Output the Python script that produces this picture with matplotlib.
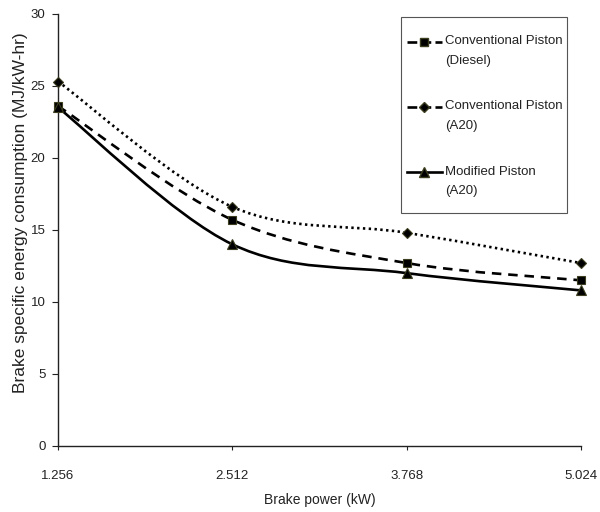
import matplotlib
matplotlib.use("Agg")
import matplotlib.pyplot as plt
import numpy as np
from matplotlib.path import Path
from matplotlib.patches import PathPatch, Rectangle
from matplotlib.lines import Line2D

plt.rcParams['font.family'] = ['Liberation Sans', 'DejaVu Sans']

# Data.
power = ["1.256", "2.512", "3.768", "5.024"]
diesel_conv = [23.6, 15.7, 12.7, 11.5]
a20_conv = [25.3, 16.6, 14.8, 12.7]
a20_mod = [23.5, 14.0, 12.0, 10.8]
series_labels = ["Conventional Piston\n(Diesel)",
                 "Conventional Piston\n(A20)",
                 "Modified Piston\n(A20)"]


def smooth_path(xs, ys):
    # Excel style smoothed line: cubic bezier through each point.
    pts = np.column_stack([xs, ys]).astype(float)
    n = len(pts)
    verts = [pts[0]]
    codes = [Path.MOVETO]
    for i in range(n - 1):
        p0 = pts[max(i - 1, 0)]
        p1 = pts[i]
        p2 = pts[i + 1]
        p3 = pts[min(i + 2, n - 1)]
        c1 = p1 + (p2 - p0) / 6.0
        c2 = p2 - (p3 - p1) / 6.0
        verts += [c1, c2, p2]
        codes += [Path.CURVE4] * 3
    return Path(verts, codes)


fig = plt.figure(figsize=(6.0, 5.12), dpi=100)
ax = fig.add_axes([0.0967, 0.129, 0.8713, 0.844])

x = np.arange(len(power))
styles = [
    dict(ls=(0, (3.6, 2.6)), marker='s', ms=6.3),
    dict(ls=(0, (0.9, 1.3)), marker='D', ms=5.0),
    dict(ls='-', marker='^', ms=6.8),
]
all_series = [diesel_conv, a20_conv, a20_mod]
lw = 1.9
mec = '#3d3d20'

handles = []
for ys, st, lab in zip(all_series, styles, series_labels):
    patch = PathPatch(smooth_path(x, ys), fill=False, edgecolor='black',
                      linewidth=lw, linestyle=st['ls'], capstyle='butt', zorder=3)
    ax.add_patch(patch)
    ax.plot(x, ys, linestyle='none', marker=st['marker'], ms=st['ms'],
            mfc='black', mec=mec, mew=0.8, zorder=4, clip_on=False)
    handles.append(Line2D([0], [0], color='black', lw=lw, ls=st['ls'],
                          marker=st['marker'], ms=st['ms'], mfc='black', mec=mec))

ax.set_xlim(0, len(power) - 1)
ax.set_ylim(0, 30)
ax.set_xticks(x)
ax.set_xticklabels(power)
ax.set_yticks(np.arange(0, 31, 5))

for side in ['top', 'right']:
    ax.spines[side].set_visible(False)
for side in ['left', 'bottom']:
    ax.spines[side].set_color('#222222')
    ax.spines[side].set_linewidth(1.0)

ax.tick_params(axis='y', direction='out', length=4, width=0.8, pad=5,
               labelsize=9.5, colors='#222222')
ax.tick_params(axis='x', direction='out', length=3, width=0.8, pad=14,
               labelsize=9.5, colors='#222222')

ax.set_xlabel("Brake power (kW)", fontsize=10, labelpad=8, color='#222222')
ax.set_ylabel("Brake specific energy consumption (MJ/kW-hr)", fontsize=12.5,
              color='#222222')
ax.yaxis.set_label_coords(-0.058, 0.54)

# Legend box drawn by hand so the handle sits on the first text line.
box = Rectangle((0.656, 0.539), 0.317, 0.454, transform=ax.transAxes,
                facecolor='white', edgecolor='#555555', linewidth=0.8,
                zorder=5, clip_on=False)
ax.add_patch(box)
entry_y = [0.935, 0.785, 0.634]
for h, lab, yy in zip(handles, series_labels, entry_y):
    ln = Line2D([0.667, 0.734], [yy, yy], transform=ax.transAxes,
                color='black', lw=lw, ls=h.get_linestyle(), zorder=6,
                clip_on=False)
    ax.add_line(ln)
    mk = Line2D([0.700], [yy], transform=ax.transAxes, ls='none',
                marker=h.get_marker(), ms=h.get_markersize(), mfc='black',
                mec=mec, zorder=7, clip_on=False)
    ax.add_line(mk)
    ax.text(0.740, yy + 0.015, lab, transform=ax.transAxes, fontsize=9.5,
            va='top', ha='left', linespacing=1.85, color='#222222', zorder=7)

fig.savefig("out.png", dpi=100)
